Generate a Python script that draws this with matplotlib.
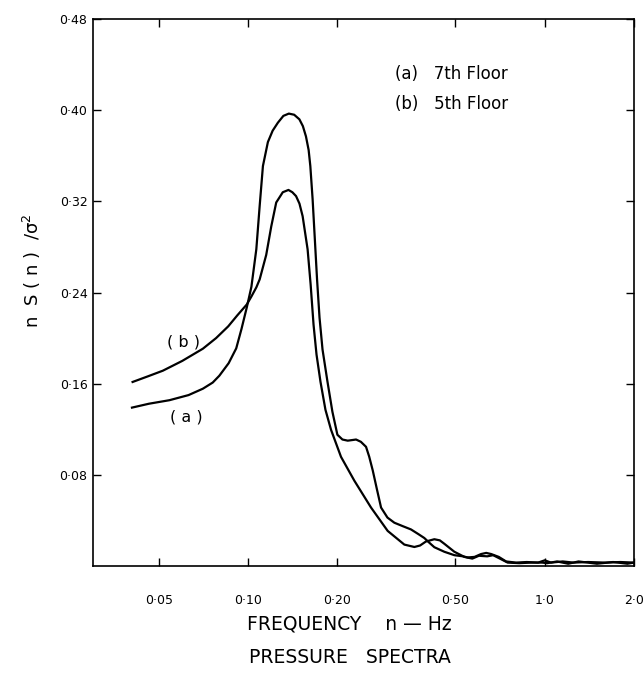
import matplotlib

matplotlib.use("Agg")
import matplotlib.pyplot as plt

# frequency (Hz) and normalised spectrum
freq_a = [
    0.0406, 0.0463, 0.0543, 0.0630, 0.0704, 0.0760, 0.0800, 0.0860, 0.0912,
    0.0950, 0.0990, 0.1026, 0.1066, 0.1094, 0.1122, 0.1166, 0.1210, 0.1260,
    0.1315, 0.1372, 0.1430, 0.1489, 0.1530, 0.1567, 0.1600, 0.1621, 0.1650,
    0.1679, 0.1708, 0.1741, 0.1782, 0.1852, 0.1924, 0.2000, 0.2080, 0.2167,
    0.2240, 0.2312, 0.2400, 0.2498, 0.2560, 0.2632, 0.2720, 0.2807, 0.2950,
    0.3112, 0.3320, 0.3541, 0.3750, 0.3926, 0.4100, 0.4245, 0.4588, 0.4959,
    0.5300, 0.5500, 0.5800, 0.6100, 0.6350, 0.6600, 0.7000, 0.7410, 0.8000,
    0.8700, 0.9500, 1.0000, 1.0500, 1.1500, 1.2500, 1.4000, 1.6000, 1.8000,
    2.0000,
]
spec_a = [
    0.139, 0.1424, 0.1455, 0.150, 0.1556, 0.161, 0.167, 0.178, 0.191,
    0.208, 0.227, 0.245, 0.278, 0.316, 0.351, 0.372, 0.382, 0.389,
    0.395, 0.397, 0.396, 0.392, 0.386, 0.377, 0.365, 0.351, 0.322,
    0.2865, 0.2514, 0.218, 0.190, 0.1617, 0.1354, 0.1152, 0.111, 0.110,
    0.1105, 0.111, 0.109, 0.1046, 0.096, 0.0838, 0.067, 0.0513, 0.0425,
    0.038, 0.035, 0.0321, 0.028, 0.0246, 0.020, 0.0165, 0.0125, 0.0095,
    0.0085, 0.0075, 0.008, 0.0105, 0.0115, 0.0105, 0.008, 0.004, 0.003,
    0.0035, 0.003, 0.005, 0.003, 0.004, 0.003, 0.0035, 0.003, 0.0035,
    0.003,
]

freq_b = [
    0.0408, 0.0460, 0.0516, 0.0600, 0.0704, 0.0780, 0.0857, 0.0920, 0.0990,
    0.1026, 0.1066, 0.1094, 0.1151, 0.1197, 0.1244, 0.1309, 0.1368, 0.1410,
    0.1451, 0.1490, 0.1527, 0.1587, 0.1625, 0.1662, 0.1701, 0.1754, 0.1823,
    0.1904, 0.2057, 0.2281, 0.2597, 0.2955, 0.3363, 0.3635, 0.3800, 0.3976,
    0.4245, 0.4430, 0.4588, 0.4959, 0.5360, 0.5700, 0.6000, 0.6400, 0.6700,
    0.7000, 0.7500, 0.8200, 0.9000, 0.9800, 1.0200, 1.1000, 1.2000, 1.3000,
    1.5000, 1.7000, 1.9000, 2.0000,
]
spec_b = [
    0.1615, 0.1665, 0.1714, 0.180, 0.1907, 0.200, 0.2103, 0.220, 0.2295,
    0.2365, 0.2445, 0.2515, 0.273, 0.298, 0.319, 0.328, 0.330, 0.328,
    0.3246, 0.318, 0.307, 0.278, 0.247, 0.2118, 0.1855, 0.1617, 0.1371,
    0.1195, 0.0958, 0.0749, 0.0513, 0.0308, 0.0188, 0.0167, 0.018, 0.0215,
    0.0235, 0.0225, 0.0195, 0.0125, 0.008, 0.0065, 0.009, 0.0085, 0.0095,
    0.007, 0.003, 0.0025, 0.003, 0.003, 0.0025, 0.004, 0.002, 0.004,
    0.002, 0.0035, 0.002, 0.003,
]

x_ticks = [0.05, 0.10, 0.20, 0.50, 1.0, 2.0]
x_tick_labels = ["0·05", "0·10", "0·20", "0·50", "1·0", "2·0"]
y_ticks = [0.08, 0.16, 0.24, 0.32, 0.40, 0.48]
y_tick_labels = ["0·08", "0·16", "0·24", "0·32", "0·40", "0·48"]

fig = plt.figure(figsize=(6.44, 6.79), dpi=100)
ax = fig.add_axes([0.1444, 0.1664, 0.8401, 0.8056])

ax.plot(freq_a, spec_a, color="black", linewidth=1.6)
ax.plot(freq_b, spec_b, color="black", linewidth=1.6)

ax.set_xscale("log")
ax.set_xlim(0.03, 2.0)
ax.set_ylim(0, 0.48)

ax.set_xticks(x_ticks)
ax.set_xticklabels(x_tick_labels)
ax.set_xticks([], minor=True)
ax.set_yticks(y_ticks)
ax.set_yticklabels(y_tick_labels)

ax.tick_params(
    axis="both",
    direction="in",
    top=True,
    right=True,
    length=6,
    width=1,
    labelsize=9,
)
ax.tick_params(axis="x", pad=20)
ax.tick_params(axis="y", pad=4)

for spine in ax.spines.values():
    spine.set_linewidth(1.2)

# curve tags and key
ax.text(0.168, 0.41, "( b )", transform=ax.transAxes, fontsize=11.5,
        ha="center", va="center")
ax.text(0.172, 0.272, "( a )", transform=ax.transAxes, fontsize=11.5,
        ha="center", va="center")
ax.text(0.558, 0.90, "(a)   7th Floor", transform=ax.transAxes,
        fontsize=12, ha="left", va="center")
ax.text(0.558, 0.845, "(b)   5th Floor", transform=ax.transAxes,
        fontsize=12, ha="left", va="center")

fig.text(0.05, 0.602, "n  S ( n )  /σ$^2$", fontsize=13, rotation=90,
         ha="center", va="center")

fig.text(0.543, 0.081, "FREQUENCY    n — Hz", fontsize=13.5,
         ha="center", va="center")
fig.text(0.543, 0.031, "PRESSURE   SPECTRA", fontsize=13.5,
         ha="center", va="center")

fig.savefig("out.png", dpi=100)
plt.close(fig)
